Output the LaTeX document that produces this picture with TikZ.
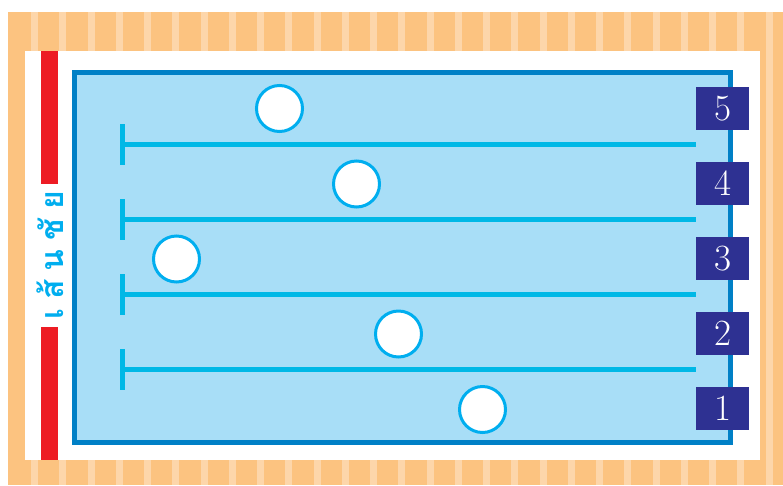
\documentclass[tikz,border=0pt]{standalone}
\usepackage{fontspec}
\newfontfamily\thaifont[Script=Thai]{Loma}
\definecolor{orangebg}{HTML}{FCC380}
\definecolor{stripecol}{HTML}{FDD6AA}
\definecolor{redbar}{HTML}{ED1C24}
\definecolor{poolfill}{HTML}{A8DEF7}
\definecolor{poolborder}{HTML}{0080C6}
\definecolor{lanecol}{HTML}{00B8E6}
\definecolor{ballcol}{HTML}{00AEEF}
\definecolor{navy}{HTML}{2E3192}
\tikzset{
  numbox/.style={fill=navy, text=white, minimum width=53pt, minimum height=43pt, inner sep=0pt,
    font=\fontsize{37}{37}\selectfont},
  ball/.style={circle, draw=ballcol, line width=3pt, fill=white, minimum size=46pt, inner sep=0pt},
  laneline/.style={draw=lanecol, line width=5pt},
  finishtext/.style={text=ballcol, rotate=90, inner sep=0pt, font=\thaifont\bfseries\fontsize{32}{32}\selectfont}
}
\begin{document}
\begin{tikzpicture}[x=1pt,y=-1pt]
\useasboundingbox (0,0) rectangle (783,485);
% orange deck with stripes
\fill[orangebg] (8,12) rectangle (783,485);
\foreach \i in {0,...,26} {
  \fill[stripecol] ({31+28.25*\i},12) rectangle ({38+28.25*\i},485);
}
\fill[white] (25,51) rectangle (760,460);
% red finish bars
\fill[redbar] (41,51) rectangle (58,184);
\fill[redbar] (41,327) rectangle (58,460);
\node[finishtext] (finish) at (50,255.5) {เ\hspace{9pt}ส้\hspace{9pt}น\hspace{9pt}ชั\hspace{9pt}ย};
% pool
\draw[fill=poolfill, draw=poolborder, line width=5pt] (74.5,72.5) rectangle (730.5,442.5);
% lanes
\foreach \i in {0,...,3} {
  \coordinate (tickA\i) at (122.5,{124+75*\i});
  \coordinate (tickB\i) at (122.5,{165+75*\i});
  \coordinate (laneS\i) at (122.5,{144.5+75*\i});
  \coordinate (laneE\i) at (696,{144.5+75*\i});
  \draw[laneline] (tickA\i) -- (tickB\i);
  \draw[laneline] (laneS\i) -- (laneE\i);
}
% lane numbers
\node[numbox] (n5) at (722.5,108.5) {5};
\node[numbox] (n4) at (722.5,183.5) {4};
\node[numbox] (n3) at (722.5,258.5) {3};
\node[numbox] (n2) at (722.5,333.5) {2};
\node[numbox] (n1) at (722.5,408.5) {1};
% swimmers
\node[ball] (b5) at (279.5,108.5) {};
\node[ball] (b4) at (356.5,184) {};
\node[ball] (b3) at (176.5,259) {};
\node[ball] (b2) at (398.5,334) {};
\node[ball] (b1) at (482.5,409.5) {};
\end{tikzpicture}
\end{document}
